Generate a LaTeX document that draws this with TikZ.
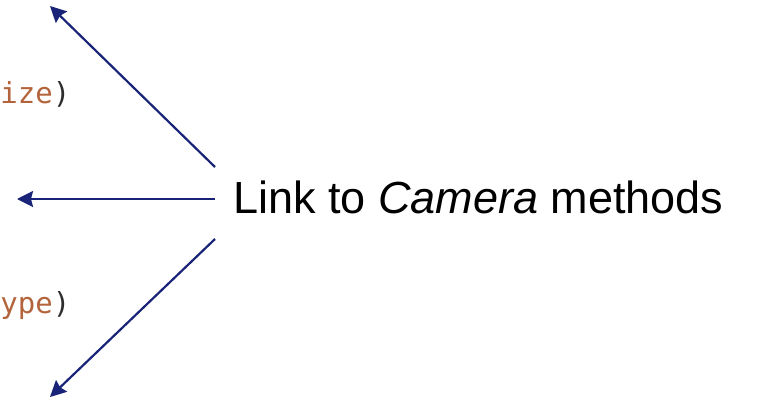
\documentclass[tikz,border=0pt]{standalone}
\usepackage{fontspec}
\setmainfont{Liberation Sans}
\newfontfamily\codefont{DejaVu Sans Mono}
\usetikzlibrary{arrows.meta}
\definecolor{linknavy}{RGB}{25,35,120}
\definecolor{codeorange}{RGB}{180,100,60}
\definecolor{codegray}{RGB}{45,45,45}
\tikzset{
  linkarrow/.style={draw=linknavy,line width=2.2pt,-{Stealth[length=16pt,width=16pt,inset=2pt]}},
  codefrag/.style={inner sep=0pt,anchor=base east,font=\codefont\fontsize{29}{32}\selectfont}
}
\begin{document}
\begin{tikzpicture}[x=1pt,y=-1pt]
  \useasboundingbox (0,0) rectangle (776,402);
  % code fragments on the left
  \node[codefrag] (sizearg) at (70.5,103) {\textcolor{codeorange}{ize}\textcolor{codegray}{)}};
  \node[codefrag] (typearg) at (70.5,313) {\textcolor{codeorange}{ype}\textcolor{codegray}{)}};
  % label and the three links
  \node[inner sep=0pt,anchor=base west,font=\fontsize{45}{50}\selectfont] (link) at (233,213) {Link to \textit{Camera} methods};
  \coordinate (topend) at (215,167); \coordinate (midend) at (215,199); \coordinate (lowend) at (215,239);
  \coordinate (toptip) at (50,6); \coordinate (midtip) at (17,199); \coordinate (lowtip) at (50,397);
  \draw[linkarrow] (topend) -- (toptip);
  \draw[linkarrow] (midend) -- (midtip);
  \draw[linkarrow] (lowend) -- (lowtip);
\end{tikzpicture}
\end{document}
